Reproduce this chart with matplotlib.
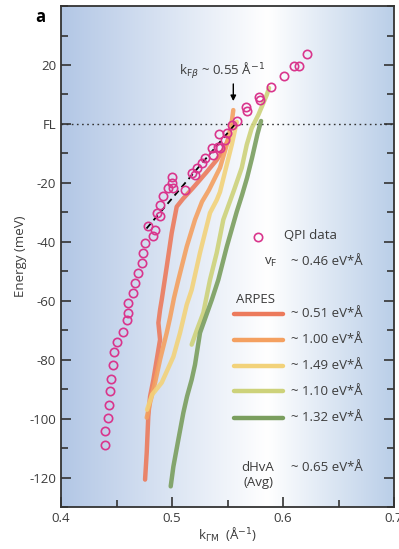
import numpy as np
import matplotlib
matplotlib.use("Agg")
import matplotlib.pyplot as plt
from matplotlib.colors import LinearSegmentedColormap

plt.rcParams['font.family'] = ['Open Sans', 'DejaVu Sans']

# QPI data (k in 1/A, energy in meV)
qpi_k = [0.6216, 0.6144, 0.6099, 0.6009, 0.5892, 0.5784, 0.5793, 0.5667, 0.5678,
         0.5583, 0.5538, 0.5493, 0.5423, 0.5477, 0.5417, 0.5432, 0.5358, 0.5372,
         0.5297, 0.5268, 0.5223, 0.5177, 0.5207, 0.5117, 0.4997, 0.4997, 0.5012,
         0.4967, 0.4922, 0.4892, 0.4862, 0.4892, 0.4786, 0.4847, 0.4832, 0.4757,
         0.4741, 0.4727, 0.4696, 0.4667, 0.4651, 0.4606, 0.4606, 0.4592, 0.4561,
         0.4502, 0.4480, 0.4471, 0.4448, 0.4441, 0.4432, 0.4426, 0.4396, 0.4396]
qpi_e = [23.7, 19.7, 19.7, 16.3, 12.5, 9.2, 8.1, 5.9, 4.5,
         1.0, -0.3, -3.2, -3.4, -5.4, -7.7, -8.2, -8.2, -10.5,
         -11.6, -13.3, -15.0, -16.7, -17.3, -22.4, -17.9, -20.1, -21.8,
         -21.8, -24.6, -27.5, -30.3, -31.4, -34.8, -35.9, -38.0, -40.3,
         -43.7, -47.1, -50.5, -53.9, -57.3, -60.8, -64.0, -66.4, -70.7,
         -74.1, -77.3, -81.7, -86.4, -90.5, -95.3, -99.8, -104.3, -108.8]

# linear fit to QPI
fit_k = [0.477, 0.557]
fit_e = [-35.5, 0.0]

# ARPES dispersions
arpes_labels = ['~ 0.51 eV*Å', '~ 1.00 eV*Å', '~ 1.49 eV*Å', '~ 1.10 eV*Å', '~ 1.32 eV*Å']
arpes_colors = ['#ec7a5c', '#f4a060', '#f2d27a', '#cdd27a', '#7a9e5e']

k_051 = [0.4757, 0.4772, 0.4786, 0.4802, 0.4832, 0.4862, 0.4892, 0.4877, 0.4892, 0.4907,
         0.4952, 0.4997, 0.5042, 0.5099, 0.5189, 0.5306, 0.5403, 0.5462, 0.5514]
e_051 = [-120.7, -111.5, -99.3, -92.5, -86.8, -80.0, -73.2, -67.5, -63.1, -59.7,
         -48.5, -37.0, -28.1, -25.4, -21.7, -16.6, -12.2, -8.8, -4.7]

k_100 = [0.4772, 0.4802, 0.4847, 0.4892, 0.4952, 0.4982, 0.5018, 0.5057, 0.5132, 0.5207,
         0.5270, 0.5333, 0.5387, 0.5432, 0.5493, 0.5538, 0.5552]
e_100 = [-99.7, -94.6, -87.8, -80.0, -70.9, -65.8, -59.0, -52.9, -41.7, -32.5,
         -26.4, -22.4, -18.3, -14.9, -7.1, 0.7, 4.7]

k_149 = [0.4775, 0.4820, 0.4907, 0.5012, 0.5072, 0.5132, 0.5177, 0.5252, 0.5342, 0.5403,
         0.5432, 0.5477, 0.5538, 0.5583]
e_149 = [-97.0, -91.9, -87.8, -79.0, -70.9, -61.4, -56.3, -43.7, -30.2, -25.8,
         -23.1, -16.3, -7.1, 0.7]

k_110 = [0.5177, 0.5225, 0.5282, 0.5342, 0.5403, 0.5462, 0.5559, 0.5628, 0.5673, 0.5718,
         0.5778, 0.5853, 0.5874]
e_110 = [-74.9, -69.8, -64.1, -52.9, -43.7, -32.5, -22.4, -14.9, -7.1, -1.4,
         3.1, 9.8, 12.2]

k_132 = [0.4988, 0.5012, 0.5057, 0.5102, 0.5135, 0.5177, 0.5207, 0.5252, 0.5358, 0.5417,
         0.5493, 0.5583, 0.5631, 0.5676, 0.5721, 0.5770, 0.5802]
e_132 = [-123.0, -116.3, -107.1, -98.0, -92.5, -86.8, -81.7, -70.9, -59.7, -52.9,
         -41.7, -29.8, -24.1, -18.3, -11.5, -3.4, 1.0]

arpes_k = [k_051, k_100, k_149, k_110, k_132]
arpes_e = [e_051, e_100, e_149, e_110, e_132]

yticks = [-120, -100, -80, -60, -40, -20, 0, 20]
yticklabels = ['-120', '-100', '-80', '-60', '-40', '-20', 'FL', '20']
xticks = [0.4, 0.5, 0.6, 0.7]

txt = '#3c3c3c'
fig = plt.figure(figsize=(3.99, 5.49), dpi=100)
ax = fig.add_axes([0.153, 0.0765, 0.8345, 0.9125])
ax.set_xlim(0.4, 0.7)
ax.set_ylim(-130, 40)

# background gradient
cmap = LinearSegmentedColormap.from_list('bg', [(0.0, (0.70, 0.78, 0.90)),
                                                (0.62, (1.0, 1.0, 1.0)),
                                                (1.0, (0.73, 0.81, 0.91))])
grad = np.linspace(0, 1, 256).reshape(1, -1)
ax.imshow(grad, extent=[0.4, 0.7, -130, 40], aspect='auto', cmap=cmap, zorder=0)

ax.axhline(0, color='#333333', linestyle=(0, (1.2, 2.5)), linewidth=1.0, zorder=1)

for k, e, c in zip(arpes_k, arpes_e, arpes_colors):
    ax.plot(k, e, color=c, linewidth=3.2, alpha=0.9, solid_capstyle='round',
            solid_joinstyle='round', zorder=2)

ax.plot(fit_k, fit_e, color='black', linestyle=(0, (3.5, 2.5)), linewidth=1.3, zorder=3)
ax.plot(qpi_k, qpi_e, linestyle='none', marker='o', markersize=6, markerfacecolor='none',
        markeredgecolor='#d9358c', markeredgewidth=1.2, zorder=4)

# legend drawn by hand
ax.plot([0.5775], [-38.3], linestyle='none', marker='o', markersize=6, markerfacecolor='none',
        markeredgecolor='#d9358c', markeredgewidth=1.2)
fs = 9.5
ax.text(0.601, -38.0, 'QPI data', fontsize=fs, color=txt, va='center')
ax.text(0.583, -47.0, 'v$_\\mathrm{F}$', fontsize=fs, color=txt, va='center')
ax.text(0.607, -46.8, '~ 0.46 eV*Å', fontsize=fs, color=txt, va='center')
ax.text(0.5575, -59.5, 'ARPES', fontsize=fs, color=txt, va='center')
leg_y = [-64.4, -73.2, -82.0, -90.8, -99.7]
for ly, c, lab in zip(leg_y, arpes_colors, arpes_labels):
    ax.plot([0.556, 0.600], [ly, ly], color=c, linewidth=3.2, solid_capstyle='round')
    ax.text(0.607, ly, lab, fontsize=fs, color=txt, va='center')
ax.text(0.5775, -116.5, 'dHvA', fontsize=fs, color=txt, va='center', ha='center')
ax.text(0.5775, -121.8, '(Avg)', fontsize=fs, color=txt, va='center', ha='center')
ax.text(0.607, -116.5, '~ 0.65 eV*Å', fontsize=fs, color=txt, va='center')

# k_F annotation
ax.text(0.506, 18.0, 'k$_{\\mathrm{F}\\beta}$ ~ 0.55 Å$^{-1}$', fontsize=fs, color=txt, va='center')
ax.annotate('', xy=(0.5552, 6.8), xytext=(0.5552, 14.5),
            arrowprops=dict(arrowstyle='-|>', color='black', lw=1.0, mutation_scale=8))

ax.set_yticks(yticks)
ax.set_yticklabels(yticklabels)
ax.set_yticks(np.arange(-130, 41, 10), minor=True)
ax.set_xticks(xticks)
ax.set_xticklabels(['0.4', '0.5', '0.6', '0.7'])
ax.set_xticks([0.45, 0.55, 0.65], minor=True)
ax.tick_params(which='both', direction='in', right=True, top=False, colors='#333333',
               labelcolor=txt, labelsize=fs, width=1.2)
ax.tick_params(which='major', length=7)
ax.tick_params(which='minor', length=5)
for s in ax.spines.values():
    s.set_linewidth(1.3)
    s.set_color('#333333')

ax.set_ylabel('Energy (meV)', fontsize=fs, color=txt, labelpad=2)
ax.set_xlabel('k$_{\\Gamma\\mathrm{M}}$  (Å$^{-1}$)', fontsize=fs, color=txt, labelpad=1)

fig.text(0.088, 0.969, 'a', fontsize=12, fontweight='bold', color='black', va='center')

fig.savefig('out.png', dpi=100)
